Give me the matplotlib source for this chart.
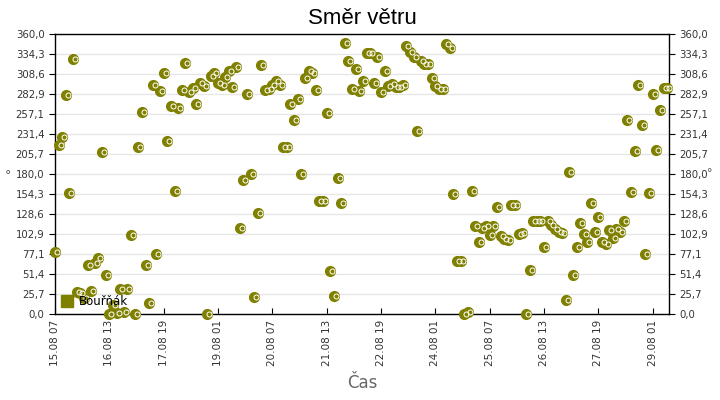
import matplotlib
matplotlib.use('Agg')
import matplotlib.pyplot as plt
import matplotlib.transforms as mtransforms
from matplotlib.lines import Line2D
import numpy as np

# Constants
_OLIVE = '#808000'
_STEP_H = 2          # sampling interval of the station [h]
_MARKERSIZE = 7

# Wind direction [deg], one value every 2 hours from 15.08 07:00
direction = [
    80, 218, 228, 282, 156, 328, 28, 27, 21, 63,
    30, 66, 72, 208, 50, 0, 12, 2, 33, 3,
    33, 102, 0, 215, 260, 63, 15, 294, 77, 287,
    310, 222, 267, 159, 265, 288, 323, 285, 291, 270,
    297, 293, 0, 306, 310, 297, 294, 305, 312, 292,
    318, 111, 172, 283, 180, 22, 130, 320, 288, 290,
    295, 299, 294, 215, 215, 270, 250, 276, 180, 303,
    312, 310, 288, 146, 146, 258, 55, 24, 175, 143,
    349, 325, 290, 315, 287, 300, 335, 335, 297, 330,
    285, 312, 293, 296, 292, 292, 295, 345, 337, 330,
    235, 325, 322, 322, 303, 293, 290, 290, 347, 342,
    155, 69, 69, 0, 3, 158, 114, 93, 111, 114,
    102, 114, 138, 100, 97, 95, 140, 140, 103, 104,
    0, 57, 120, 120, 120, 87, 120, 115, 109, 106,
    104, 18, 183, 50, 87, 117, 103, 93, 143, 106,
    125, 93, 90, 108, 98, 110, 106, 120, 249, 157,
    210, 294, 243, 77, 156, 283, 211, 262, 291, 291,
]

x_tick_labels = ['15.08 07', '16.08 13', '17.08 19', '19.08 01', '20.08 07',
                 '21.08 13', '22.08 19', '24.08 01', '25.08 07', '26.08 13',
                 '27.08 19', '29.08 01']
x_tick_hours = [0, 30, 60, 90, 120, 150, 180, 210, 240, 270, 300, 330]

y_tick_labels = ['0,0', '25,7', '51,4', '77,1', '102,9', '128,6', '154,3',
                 '180,0', '205,7', '231,4', '257,1', '282,9', '308,6',
                 '334,3', '360,0']

station = 'Bouřňák'


if __name__ == '__main__':

    hours = np.arange(len(direction)) * _STEP_H

    fig = plt.figure(figsize=(7.2, 4), dpi=100)
    ax = fig.add_axes([55 / 720, 1 - 314.3 / 400, 614 / 720, 280.3 / 400])

    # Points: olive disc with a small white ring shifted to the right
    ax.plot(hours, direction, 'o', color=_OLIVE, markersize=_MARKERSIZE,
            markeredgecolor=_OLIVE, clip_on=False, zorder=3)
    shift = mtransforms.offset_copy(ax.transData, fig=fig, x=2, y=0, units='dots')
    ax.plot(hours, direction, 'o', markerfacecolor='none', markeredgecolor='white',
            markersize=3.6, markeredgewidth=0.7, transform=shift, clip_on=False, zorder=4)

    # Axes
    ax.set_xlim(0, 339)
    ax.set_ylim(0, 360)
    yticks = np.linspace(0, 360, len(y_tick_labels))
    ax.set_yticks(yticks)
    ax.set_yticklabels(y_tick_labels)
    ax.set_xticks(x_tick_hours)
    ax.set_xticklabels(x_tick_labels, rotation=90)
    ax.tick_params(axis='y', direction='out', length=4, labelsize=7.3,
                   labelcolor='#333333', left=True, right=True,
                   labelleft=True, labelright=True)
    ax.tick_params(axis='x', direction='in', length=4, labelsize=7.5,
                   labelcolor='#333333', pad=4)
    for spine in ax.spines.values():
        spine.set_color('black')
        spine.set_linewidth(1)
    ax.yaxis.grid(True, color='#e6e6e6', linewidth=1)
    ax.set_axisbelow(True)

    # Legend
    handle = Line2D([], [], marker='s', color=_OLIVE, linestyle='none', markersize=8)
    ax.legend([handle], [station], loc='lower left', frameon=False,
              fontsize=8.5, handletextpad=0.5, borderaxespad=0.3,
              handlelength=1.0, borderpad=0.2)

    # Texts
    fig.text(362 / 720, 1 - 18 / 400, 'Směr větru', ha='center', va='center',
             fontsize=16, family='Liberation Sans')
    fig.text(362 / 720, 1 - 383 / 400, 'Čas', ha='center', va='center',
             fontsize=12, color='#666666')
    fig.text(8 / 720, 1 - 176 / 400, '°', ha='center', va='center',
             fontsize=9, color='#555555')
    fig.text(707 / 720, 1 - 173 / 400, '°', ha='left', va='center',
             fontsize=8, color='#555555')

    fig.savefig('out.png', dpi=100)
